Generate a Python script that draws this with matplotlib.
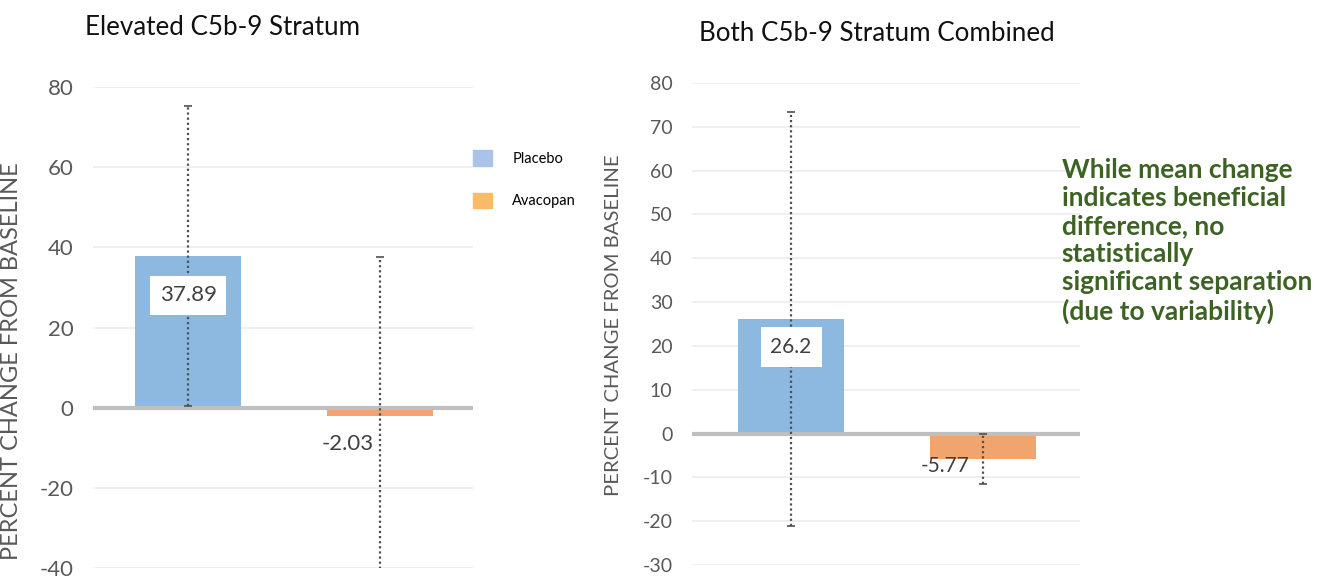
import numpy as np
import matplotlib
matplotlib.use("Agg")
import matplotlib.pyplot as plt
from matplotlib.patches import Patch

plt.rcParams['font.family'] = ['Lato', 'DejaVu Sans']

groups = ['Placebo', 'Avacopan']
elevated_mean = [37.89, -2.03]
elevated_sd = [37.5, 39.5]
combined_mean = [26.2, -5.77]
combined_sd = [47.2, 5.77]
elevated_ticks = [-40, -20, 0, 20, 40, 60, 80]
combined_ticks = [-30, -20, -10, 0, 10, 20, 30, 40, 50, 60, 70, 80]

bar_colors = ['#8db8e0', '#f0a46e']
legend_colors = ['#a9c4e8', '#f7bb6a']
tick_color = '#595959'
note = ("While mean change\nindicates beneficial\ndifference, no\nstatistically\n"
        "significant separation\n(due to variability)")


def draw_panel(ax, means, sds, ticks, ylim, xlim, tick_size, label_size, label_xy):
    x = np.arange(len(means))
    ax.bar(x, means, width=0.55, color=bar_colors, zorder=2)
    eb = ax.errorbar(x, means, yerr=sds, fmt='none', ecolor='#505050',
                     elinewidth=1.6, capsize=3, capthick=1.2, zorder=4)
    eb.lines[2][0].set_linestyle((0, (1, 1.3)))
    ax.axhline(0, color='#bfbfbf', linewidth=3, zorder=3)
    ax.set_ylim(*ylim)
    ax.set_xlim(*xlim)
    ax.set_yticks(ticks)
    ax.set_yticklabels([str(t) for t in ticks])
    ax.yaxis.grid(True, color='#ececec', linewidth=1.2, zorder=0)
    ax.set_axisbelow(True)
    ax.set_xticks([])
    for s in ax.spines.values():
        s.set_visible(False)
    ax.tick_params(axis='y', length=0, labelsize=tick_size, labelcolor=tick_color, pad=14)
    ax.set_ylabel('PERCENT CHANGE FROM BASELINE', fontsize=label_size,
                  color=tick_color)
    ax.yaxis.set_label_coords(*label_xy)


fig = plt.figure(figsize=(13.29, 5.76), dpi=100)

ax1 = fig.add_axes([0.070, 0.0139, 0.286, 0.835])
draw_panel(ax1, elevated_mean, elevated_sd, elevated_ticks, (-40, 80),
           (-0.495, 1.485), 16, 17, (-0.187, 0.43))
ax1.text(0, 28, '37.89', ha='center', va='center', fontsize=16, color='#404040',
         bbox=dict(facecolor='white', edgecolor='none', pad=7), zorder=5)
ax1.text(0.83, -9, '-2.03', ha='center', va='center', fontsize=16,
         color='#404040', zorder=5)
handles = [Patch(color=c) for c in legend_colors]
ax1.legend(handles, groups, loc='upper left', bbox_to_anchor=(0.965, 0.897),
           frameon=False, fontsize=10.5, handlelength=1.3, handleheight=1.3,
           labelspacing=1.85, handletextpad=1.4)

ax2 = fig.add_axes([0.5207, 0.019, 0.292, 0.837])
draw_panel(ax2, combined_mean, combined_sd, combined_ticks, (-30, 80),
           (-0.516, 1.505), 14, 14.6, (-0.18, 0.498))
ax2.text(0, 19.7, '26.2', ha='center', va='center', fontsize=15, color='#404040',
         bbox=dict(facecolor='white', edgecolor='none', pad=7), zorder=5)
ax2.text(0.80, -7.3, '-5.77', ha='center', va='center', fontsize=15,
         color='#404040', zorder=5)

fig.text(0.064, 0.953, 'Elevated C5b-9 Stratum', fontsize=18.7, color='#111111',
         va='center')
fig.text(0.526, 0.942, 'Both C5b-9 Stratum Combined', fontsize=18.7, color='#111111',
         va='center')
fig.text(0.799, 0.725, note, fontsize=19, fontweight='bold', color='#3d6324',
         va='top', ha='left', linespacing=1.2)

fig.savefig('out.png', dpi=100)
